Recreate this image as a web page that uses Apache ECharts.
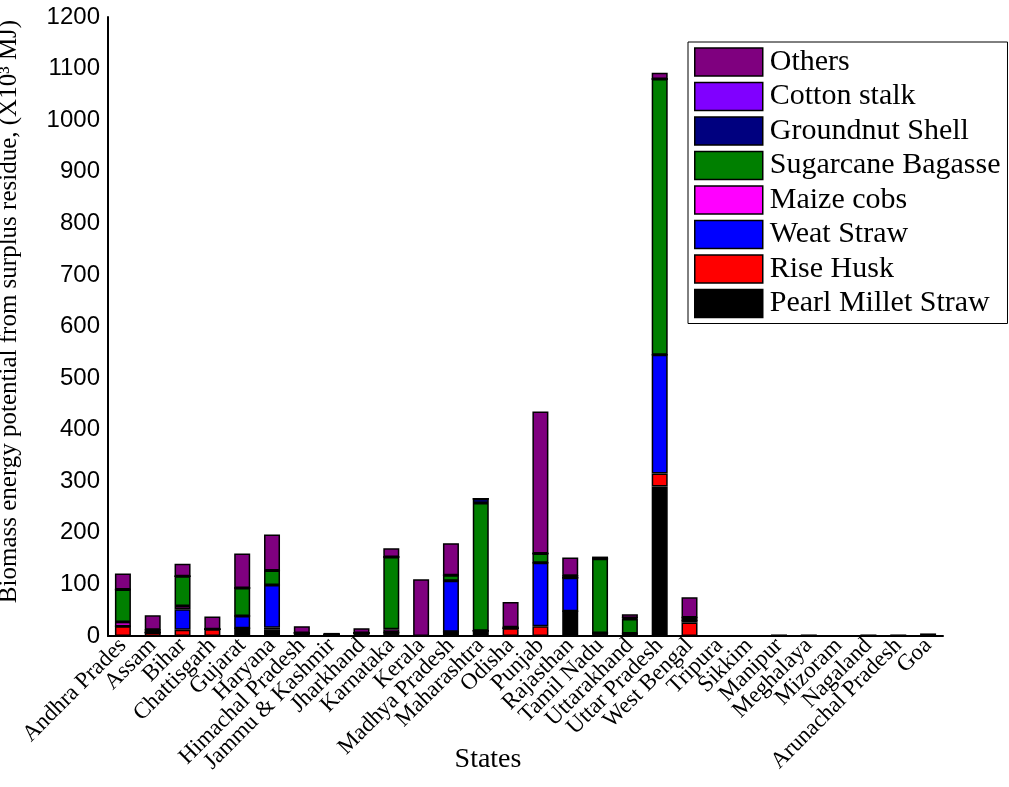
<!DOCTYPE html>
<html>
<head>
<meta charset="utf-8">
<script src="https://cdn.jsdelivr.net/npm/echarts@6/dist/echarts.min.js"></script>
<style>
  html, body { margin: 0; padding: 0; background: #fff; }
  #chart { width: 1009px; height: 787px; }
</style>
</head>
<body>
<div id="chart"></div>
<script>
// States along the x axis
const states = [
  'Andhra Prades', 'Assam', 'Bihar', 'Chattisgarh', 'Gujarat', 'Haryana',
  'Himachal Pradesh', 'Jammu & Kashmir', 'Jharkhand', 'Karnataka', 'Kerala',
  'Madhya Pradesh', 'Maharashtra', 'Odisha', 'Punjab', 'Rajasthan', 'Tamil Nadu',
  'Uttarakhand', 'Uttar Pradesh', 'West Bengal', 'Tripura', 'Sikkim', 'Manipur',
  'Meghalaya', 'Mizoram', 'Nagaland', 'Arunachal Pradesh', 'Goa'
];

// Energy potential per residue type (X10^3 MJ), stacked bottom to top
const pearlMillet = [0, 0, 0, 0, 15, 13, 4, 3, 2, 2, 0, 8, 10, 0, 0, 48, 2, 0, 290, 0, 0, 0, 0, 0, 0, 0, 0, 0];
const riseHusk    = [19, 7, 12, 13, 0, 3, 2, 0, 4, 5, 0, 0, 0, 15, 19, 0, 4, 0, 25, 26, 0, 0, 0, 0, 0, 0, 0, 0];
const weatStraw   = [0, 0, 40, 0, 24, 83, 0, 0, 0, 0, 0, 99, 0, 0, 123, 65, 0, 5, 230, 4, 0, 0, 0, 0, 0, 0, 0, 0];
const maizeCobs   = [8, 0, 6, 0, 0, 0, 0, 0, 0, 6, 0, 0, 0, 0, 0, 0, 0, 0, 0, 0, 0, 0, 0, 0, 0, 0, 0, 0];
const sugarcane   = [63, 0, 58, 0, 54, 28, 0, 0, 0, 140, 0, 11, 248, 0, 18, 0, 144, 28, 535, 3, 0, 0, 0, 0, 0, 0, 0, 0];
const groundnut   = [0, 5, 0, 0, 0, 0, 0, 0, 0, 0, 0, 0, 8, 2, 0, 4, 0, 2, 0, 3, 0, 0, 0, 0, 0, 0, 0, 0];
const cottonStalk = [0, 0, 0, 0, 0, 0, 0, 0, 0, 0, 0, 0, 0, 0, 0, 0, 0, 0, 0, 0, 0, 0, 0, 0, 0, 0, 0, 0];
const others      = [31, 28, 24, 25, 67, 70, 13, 3, 9, 17, 110, 62, 0, 49, 275, 35, 4, 7, 12, 39, 0, 0, 3, 3, 0, 3, 3, 5];

const yTicks = { min: 0, max: 1200, interval: 100 };

const residues = [
  { name: 'Pearl Millet Straw', data: pearlMillet, color: '#000000' },
  { name: 'Rise Husk',          data: riseHusk,    color: '#ff0000' },
  { name: 'Weat Straw',         data: weatStraw,   color: '#0000ff' },
  { name: 'Maize cobs',         data: maizeCobs,   color: '#ff00ff' },
  { name: 'Sugarcane Bagasse',  data: sugarcane,   color: '#007f00' },
  { name: 'Groundnut Shell',    data: groundnut,   color: '#00007f' },
  { name: 'Cotton stalk',       data: cottonStalk, color: '#8000ff' },
  { name: 'Others',             data: others,      color: '#7f007f' }
];

const serif = '"Liberation Serif", "Times New Roman", serif';
const sans = '"Liberation Sans", Arial, sans-serif';

const chart = echarts.init(document.getElementById('chart'), null, { renderer: 'canvas' });

chart.setOption({
  animation: false,
  backgroundColor: '#ffffff',
  grid: {
    left: 108, right: 66, top: 17, bottom: 151,
    containLabel: false,
    outerBoundsMode: 'none'
  },
  legend: {
    orient: 'vertical',
    left: 688,
    top: 42,
    data: residues.map(r => r.name).reverse(),
    icon: 'rect',
    itemWidth: 68,
    itemHeight: 28,
    itemGap: 4.5,
    padding: [5, 7, 5, 6],
    borderColor: '#000',
    borderWidth: 1,
    backgroundColor: '#fff',
    itemStyle: { borderColor: '#000', borderWidth: 1.5 },
    textStyle: { fontFamily: serif, fontSize: 30, lineHeight: 28, color: '#000', padding: [0, 0, 0, 2] }
  },
  xAxis: {
    type: 'category',
    data: states,
    name: 'States',
    nameLocation: 'middle',
    nameGap: 110,
    nameMoveOverlap: false,
    nameTextStyle: { fontFamily: serif, fontSize: 28, color: '#000', padding: [0, 75, 0, 0] },
    axisLine: { lineStyle: { color: '#000', width: 2 } },
    axisTick: { show: false },
    axisLabel: {
      interval: 0,
      rotate: 45,
      margin: 6,
      fontFamily: serif,
      fontSize: 23,
      color: '#000'
    }
  },
  yAxis: {
    type: 'value',
    min: yTicks.min,
    max: yTicks.max,
    interval: yTicks.interval,
    name: 'Biomass energy potential from surplus residue, (X10³ MJ)',
    nameLocation: 'middle',
    nameGap: 86,
    nameMoveOverlap: false,
    nameTextStyle: { fontFamily: serif, fontSize: 25, color: '#000', padding: [0, 0, 0, 30] },
    axisLine: { show: true, lineStyle: { color: '#000', width: 2 } },
    axisTick: { show: false },
    splitLine: { show: false },
    axisLabel: {
      fontFamily: sans, fontSize: 24, color: '#000', margin: 8,
      formatter: v => String(v)
    }
  },
  series: residues.map(r => ({
    name: r.name,
    type: 'bar',
    stack: 'total',
    barWidth: 16,
    data: r.data,
    itemStyle: { color: r.color, borderColor: '#000', borderWidth: 1.5 }
  }))
});
</script>
</body>
</html>
